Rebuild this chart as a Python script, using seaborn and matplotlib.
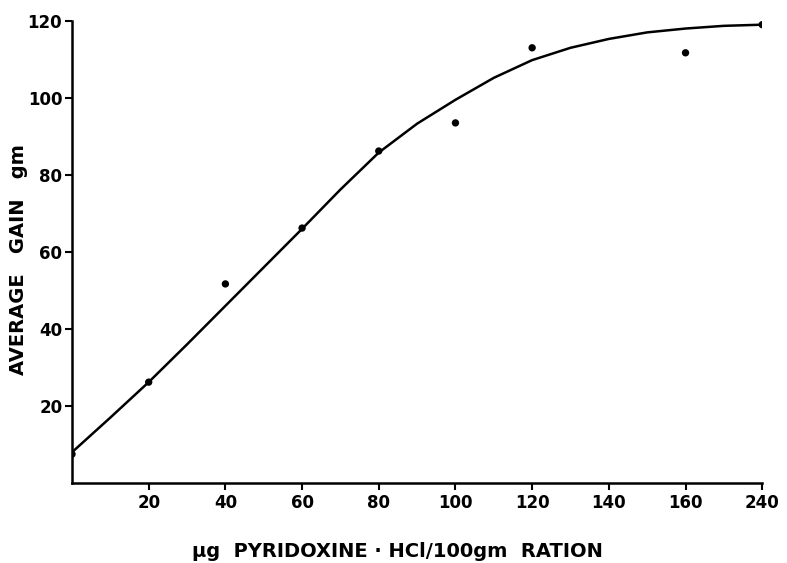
import matplotlib
matplotlib.use("Agg")
import matplotlib.pyplot as plt
import seaborn as sns
import pandas as pd

# Categorical x positions (equally spaced in the original)
x_labels = ["20", "40", "60", "80", "100", "120", "140", "160", "240"]
x_tick_pos = [1, 2, 3, 4, 5, 6, 7, 8, 9]

# Observed points: (position, average gain)
obs_pos = [0, 1, 2, 3, 4, 5, 6, 8, 9]
obs_gain = [7.5, 26.2, 51.7, 66.2, 86.2, 93.5, 113.0, 111.7, 119.0]

# Fitted curve at half-step positions
curve_pos = [0, 0.5, 1, 1.5, 2, 2.5, 3, 3.5, 4, 4.5, 5, 5.5, 6, 6.5, 7, 7.5, 8, 8.5, 9]
curve_gain = [8.0, 17.0, 26.2, 36.0, 46.0, 56.0, 66.0, 76.2, 85.8, 93.3, 99.5,
              105.2, 109.8, 113.0, 115.3, 117.0, 118.0, 118.7, 119.0]

y_ticks = [20, 40, 60, 80, 100, 120]

sns.set_style("ticks")
plt.rcParams['font.family'] = ['DejaVu Sans']

fig = plt.figure(figsize=(7.87, 5.63), dpi=100)
ax = fig.add_axes([0.0915, 0.142, 0.877, 0.821])

curve_df = pd.DataFrame({"pos": curve_pos, "gain": curve_gain})
obs_df = pd.DataFrame({"pos": obs_pos, "gain": obs_gain})

sns.lineplot(data=curve_df, x="pos", y="gain", ax=ax, color="black", linewidth=1.8, sort=True)
sns.scatterplot(data=obs_df, x="pos", y="gain", ax=ax, color="black", s=28, edgecolor="none", zorder=5)

ax.set_xlim(0, 9)
ax.set_ylim(0, 120)
ax.set_xticks(x_tick_pos)
ax.set_xticklabels(x_labels)
ax.set_yticks(y_ticks)
ax.set_yticklabels([str(v) for v in y_ticks])

for sp in ["top", "right"]:
    ax.spines[sp].set_visible(False)
for sp in ["left", "bottom"]:
    ax.spines[sp].set_linewidth(1.8)
    ax.spines[sp].set_color("black")

ax.tick_params(axis="both", direction="out", length=5, width=1.5, colors="black",
               labelsize=12)
for lab in ax.get_xticklabels() + ax.get_yticklabels():
    lab.set_fontweight("bold")
ax.tick_params(axis="x", pad=3)
ax.tick_params(axis="y", pad=2)

ax.set_xlabel("μg  PYRIDOXINE · HCl/100gm  RATION", fontsize=14, fontweight="bold",
              color="black")
ax.xaxis.set_label_coords(0.472, -0.147)
ax.xaxis.label.set_verticalalignment("center")
ax.set_ylabel("AVERAGE   GAIN   gm", fontsize=14, fontweight="bold", color="black")
ax.yaxis.set_label_coords(-0.078, 0.483)
ax.yaxis.label.set_verticalalignment("center")

fig.savefig("out.png", dpi=100, facecolor="white")
